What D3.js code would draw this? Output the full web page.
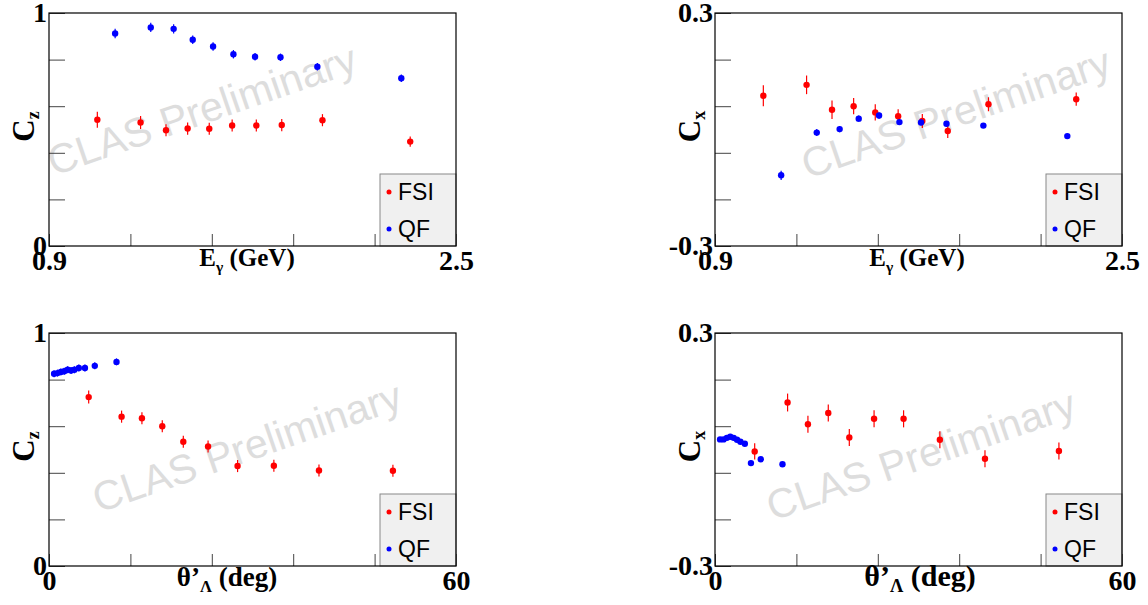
<!DOCTYPE html>
<html>
<head>
<meta charset="utf-8">
<script src="https://cdn.jsdelivr.net/npm/d3@7"></script>
<style>
body { margin: 0; background: #fff; }
</style>
</head>
<body>
<script>
//Photon energy bins (GeV)
var energyFsi = [1.09, 1.26, 1.36, 1.445, 1.53, 1.62, 1.715, 1.815, 1.975, 2.32];
var energyQf = [1.16, 1.30, 1.39, 1.465, 1.545, 1.625, 1.71, 1.81, 1.955, 2.285];

//Cz vs energy
var czEnergyFsi = [0.542, 0.530, 0.497, 0.504, 0.503, 0.517, 0.517, 0.519, 0.540, 0.448];
var czEnergyFsiErr = [0.034, 0.028, 0.026, 0.026, 0.026, 0.026, 0.026, 0.026, 0.026, 0.022];
var czEnergyQf = [0.912, 0.938, 0.932, 0.885, 0.856, 0.823, 0.812, 0.810, 0.769, 0.720];
var czEnergyQfErr = [0.02, 0.02, 0.02, 0.018, 0.018, 0.018, 0.016, 0.016, 0.016, 0.016];

//Cx vs energy
var cxEnergyFsi = [0.087, 0.115, 0.051, 0.060, 0.044, 0.034, 0.022, -0.004, 0.065, 0.078];
var cxEnergyFsiErr = [0.027, 0.024, 0.024, 0.021, 0.021, 0.018, 0.018, 0.018, 0.018, 0.017];
var cxEnergyQf = [-0.118, -0.008, 0.001, 0.028, 0.036, 0.019, 0.018, 0.015, 0.010, -0.017];
var cxEnergyQfErr = [0.012, 0.009, 0.008, 0.008, 0.008, 0.007, 0.007, 0.007, 0.006, 0.006];

//Lambda angle bins (deg)
var angleFsi = [5.85, 10.7, 13.7, 16.7, 19.8, 23.45, 27.8, 33.15, 39.8, 50.7];
var angleQf = [0.75, 1.25, 1.75, 2.25, 2.75, 3.25, 3.75, 4.4, 5.3, 6.75, 9.95];

//Cz vs angle
var czAngleFsi = [0.725, 0.641, 0.634, 0.600, 0.533, 0.513, 0.429, 0.430, 0.410, 0.409];
var czAngleFsiErr = [0.028, 0.026, 0.026, 0.026, 0.026, 0.026, 0.026, 0.026, 0.026, 0.026];
var czAngleQf = [0.825, 0.828, 0.833, 0.836, 0.842, 0.839, 0.842, 0.850, 0.850, 0.859, 0.876];
var czAngleQfErr = [0.015, 0.015, 0.015, 0.015, 0.015, 0.015, 0.015, 0.015, 0.015, 0.015, 0.015];

//Cx vs angle
var cxAngleFsi = [-0.005, 0.121, 0.065, 0.094, 0.031, 0.079, 0.079, 0.025, -0.024, -0.004];
var cxAngleFsiErr = [0.021, 0.023, 0.022, 0.022, 0.022, 0.022, 0.022, 0.022, 0.022, 0.022];
var cxAngleQf = [0.026, 0.026, 0.030, 0.033, 0.030, 0.025, 0.020, 0.015, -0.035, -0.025, -0.038];
var cxAngleQfErr = [0.006, 0.006, 0.006, 0.006, 0.006, 0.006, 0.006, 0.006, 0.006, 0.006, 0.006];

//Ticks and labels
var energyTicks = [0.9, 1.22, 1.54, 1.86, 2.18, 2.5];
var energyTickLabels = ["0.9", "", "", "", "", "2.5"];
var angleTicks = [0, 12, 24, 36, 48, 60];
var angleTickLabels = ["0", "", "", "", "", "60"];
var czTicks = [0, 0.2, 0.4, 0.6, 0.8, 1];
var czTickLabels = ["0", "", "", "", "", "1"];
var cxTicks = [-0.3, -0.18, -0.06, 0.06, 0.18, 0.3];
var cxTickLabels = ["-0.3", "", "", "", "", "0.3"];

var seriesNames = ["FSI", "QF"];
var seriesColors = ["#ff0000", "#0000ff"];

//Width and height
var w = 1148;
var h = 605;

var svg = d3.select("body")
            .append("svg")
            .attr("width", w)
            .attr("height", h);

var serif = "'Liberation Serif', 'Times New Roman', serif";
var sans = "'Liberation Sans', Arial, sans-serif";

//Panel layout
var panels = [
    {left: 49, top: 13, xDom: [0.9, 2.5], yDom: [0, 1],
     xTicks: energyTicks, xLabels: energyTickLabels, yTicks: czTicks, yLabels: czTickLabels,
     xTitle: ["E", "\u03b3", " (GeV)"], yTitle: ["C", "z"], xTitleX: 198, titleSize: 25,
     fsi: [energyFsi, czEnergyFsi, czEnergyFsiErr], qf: [energyQf, czEnergyQf, czEnergyQfErr],
     mark: [153, 97]},
    {left: 715, top: 13, xDom: [0.9, 2.5], yDom: [-0.3, 0.3],
     xTicks: energyTicks, xLabels: energyTickLabels, yTicks: cxTicks, yLabels: cxTickLabels,
     xTitle: ["E", "\u03b3", " (GeV)"], yTitle: ["C", "x"], xTitleX: 202, titleSize: 25,
     fsi: [energyFsi, cxEnergyFsi, cxEnergyFsiErr], qf: [energyQf, cxEnergyQf, cxEnergyQfErr],
     mark: [241, 100]},
    {left: 49, top: 333, xDom: [0, 60], yDom: [0, 1],
     xTicks: angleTicks, xLabels: angleTickLabels, yTicks: czTicks, yLabels: czTickLabels,
     xTitle: ["\u03b8\u2019", "\u039b", " (deg)"], yTitle: ["C", "z"], xTitleX: 178, titleSize: 27,
     fsi: [angleFsi, czAngleFsi, czAngleFsiErr], qf: [angleQf, czAngleQf, czAngleQfErr],
     mark: [198, 114]},
    {left: 715, top: 333, xDom: [0, 60], yDom: [-0.3, 0.3],
     xTicks: angleTicks, xLabels: angleTickLabels, yTicks: cxTicks, yLabels: cxTickLabels,
     xTitle: ["\u03b8\u2019", "\u039b", " (deg)"], yTitle: ["C", "x"], xTitleX: 205, titleSize: 30,
     fsi: [angleFsi, cxAngleFsi, cxAngleFsiErr], qf: [angleQf, cxAngleQf, cxAngleQfErr],
     mark: [206, 122]}
];

var pw = 407;
var ph = 233;

panels.forEach(function(p) {

    var g = svg.append("g")
               .attr("transform", "translate(" + p.left + "," + p.top + ")");

    var x = d3.scaleLinear().domain(p.xDom).range([0, pw]);
    var y = d3.scaleLinear().domain(p.yDom).range([ph, 0]);

    //Watermark
    g.append("text")
     .attr("transform", "translate(" + p.mark[0] + "," + p.mark[1] + ") rotate(-19)")
     .attr("text-anchor", "middle")
     .attr("dominant-baseline", "central")
     .attr("font-family", sans)
     .attr("font-size", 41)
     .attr("fill", "#dddddd")
     .text("CLAS Preliminary");

    //Axes (inward ticks, labels only at the ends)
    var xAxis = g.append("g")
        .attr("transform", "translate(0," + ph + ")")
        .call(d3.axisBottom(x)
            .tickValues(p.xTicks)
            .tickSize(-12)
            .tickPadding(4)
            .tickFormat(function(d, i) { return p.xLabels[i]; }));

    var yAxis = g.append("g")
        .call(d3.axisLeft(y)
            .tickValues(p.yTicks)
            .tickSize(-16)
            .tickPadding(2)
            .tickFormat(function(d, i) { return p.yLabels[i]; }));

    [xAxis, yAxis].forEach(function(a) {
        a.select(".domain").remove();
        a.selectAll(".tick line").attr("stroke", "#444");
        a.selectAll("text")
         .attr("fill", "#000")
         .attr("font-family", serif)
         .attr("font-weight", "bold")
         .attr("font-size", 28);
    });

    //Series: error bars and markers
    [p.fsi, p.qf].forEach(function(s, k) {
        var pts = s[0].map(function(v, i) { return {x: v, y: s[1][i], e: s[2][i]}; });
        var sg = g.append("g");
        sg.selectAll("line")
          .data(pts)
          .enter()
          .append("line")
          .attr("x1", function(d) { return x(d.x); })
          .attr("x2", function(d) { return x(d.x); })
          .attr("y1", function(d) { return y(d.y - d.e); })
          .attr("y2", function(d) { return y(d.y + d.e); })
          .attr("stroke", seriesColors[k])
          .attr("stroke-width", 1.2);
        sg.selectAll("circle")
          .data(pts)
          .enter()
          .append("circle")
          .attr("cx", function(d) { return x(d.x); })
          .attr("cy", function(d) { return y(d.y); })
          .attr("r", 3.2)
          .attr("fill", seriesColors[k]);
    });

    //Legend
    var lg = g.append("g")
              .attr("transform", "translate(" + (pw - 76) + "," + (ph - 72) + ")");
    lg.append("rect")
      .attr("width", 76)
      .attr("height", 72)
      .attr("fill", "#f0f0f0")
      .attr("stroke", "#888");
    seriesNames.forEach(function(name, k) {
        lg.append("circle")
          .attr("cx", 9)
          .attr("cy", 18 + 37 * k)
          .attr("r", 2.5)
          .attr("fill", seriesColors[k]);
        lg.append("text")
          .attr("x", 18)
          .attr("y", 26 + 37 * k)
          .attr("font-family", sans)
          .attr("font-size", 23)
          .attr("fill", "#000")
          .text(name);
    });

    //Frame
    g.append("rect")
     .attr("width", pw)
     .attr("height", ph)
     .attr("fill", "none")
     .attr("stroke", "#000")
     .attr("stroke-width", 1.2);

    //X title
    var xt = g.append("text")
        .attr("x", p.xTitleX)
        .attr("y", ph + 20)
        .attr("text-anchor", "middle")
        .attr("font-family", serif)
        .attr("font-weight", "bold")
        .attr("font-size", p.titleSize);
    xt.append("tspan").text(p.xTitle[0]);
    xt.append("tspan").attr("dy", 6).attr("font-size", p.titleSize * 0.62).text(p.xTitle[1]);
    xt.append("tspan").attr("dy", -6).text(p.xTitle[2]);

    //Y title
    var yt = g.append("text")
        .attr("transform", "translate(-15," + (ph / 2 - 3) + ") rotate(-90)")
        .attr("text-anchor", "middle")
        .attr("font-family", serif)
        .attr("font-weight", "bold")
        .attr("font-size", 31);
    yt.append("tspan").text(p.yTitle[0]);
    yt.append("tspan").attr("dy", 5).attr("font-size", 18).text(p.yTitle[1]);
});
</script>
</body>
</html>
